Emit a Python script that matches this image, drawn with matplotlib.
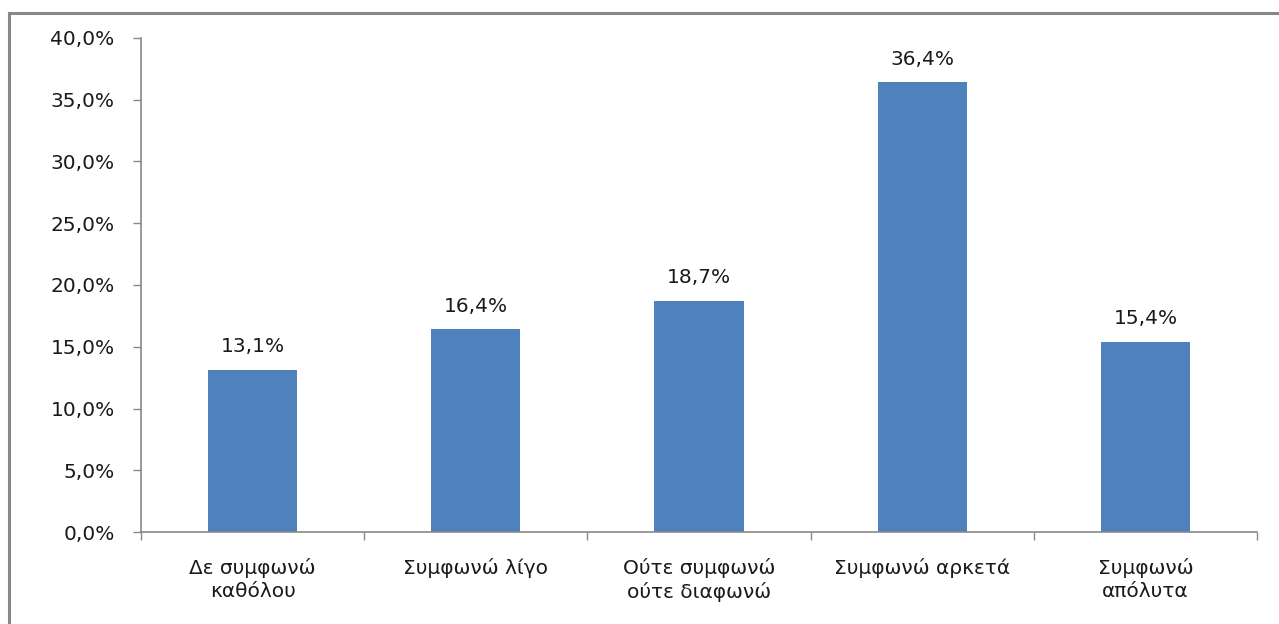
import matplotlib
matplotlib.use("Agg")
import matplotlib.pyplot as plt
from matplotlib.lines import Line2D

categories = ["Δε συμφωνώ\nκαθόλου", "Συμφωνώ λίγο", "Ούτε συμφωνώ\nούτε διαφωνώ",
              "Συμφωνώ αρκετά", "Συμφωνώ\nαπόλυτα"]
values = [13.1, 16.4, 18.7, 36.4, 15.4]
value_labels = ["13,1%", "16,4%", "18,7%", "36,4%", "15,4%"]
yticks = [0, 5, 10, 15, 20, 25, 30, 35, 40]
ytick_labels = ["0,0%", "5,0%", "10,0%", "15,0%", "20,0%", "25,0%", "30,0%", "35,0%", "40,0%"]

W, H = 1279, 624
FS = 14.5
TXT = "#1a1a1a"
fig = plt.figure(figsize=(W / 100, H / 100), dpi=100)
fig.patch.set_facecolor("white")
ax = fig.add_axes([141 / W, 1 - 532 / H, (1257 - 141) / W, (532 - 38) / H])

x = list(range(len(values)))
ax.bar(x, values, width=0.4, color="#4F81BD", zorder=2)
ax.set_xlim(-0.5, len(values) - 0.5)
ax.set_ylim(0, 40)

for xi, v, lab in zip(x, values, value_labels):
    ax.annotate(lab, (xi, v), xytext=(0, 10), textcoords="offset points",
                ha="center", va="bottom", fontsize=FS, color=TXT)

ax.set_yticks(yticks)
ax.set_yticklabels(ytick_labels, fontsize=FS, color=TXT)
ax.set_xticks(x)
ax.set_xticklabels(categories, fontsize=FS, color=TXT, linespacing=1.25)
ax.tick_params(axis="x", length=0, pad=19)
ax.set_xticks([i - 0.5 for i in range(len(values) + 1)], minor=True)
ax.tick_params(axis="x", which="minor", length=6, color="#888888", width=1)
ax.tick_params(axis="y", length=6, color="#888888", width=1, pad=13)

for s in ["top", "right"]:
    ax.spines[s].set_visible(False)
for s in ["left", "bottom"]:
    ax.spines[s].set_color("#888888")
    ax.spines[s].set_linewidth(1.2)

# figure border
fig.add_artist(Line2D([8.5 / W, 8.5 / W], [0, 1 - 13 / H], transform=fig.transFigure,
                      color="#888888", linewidth=2.2))
fig.add_artist(Line2D([8.5 / W, 1], [1 - 13 / H, 1 - 13 / H], transform=fig.transFigure,
                      color="#888888", linewidth=2.2))

fig.savefig("out.png", dpi=100, facecolor="white")
